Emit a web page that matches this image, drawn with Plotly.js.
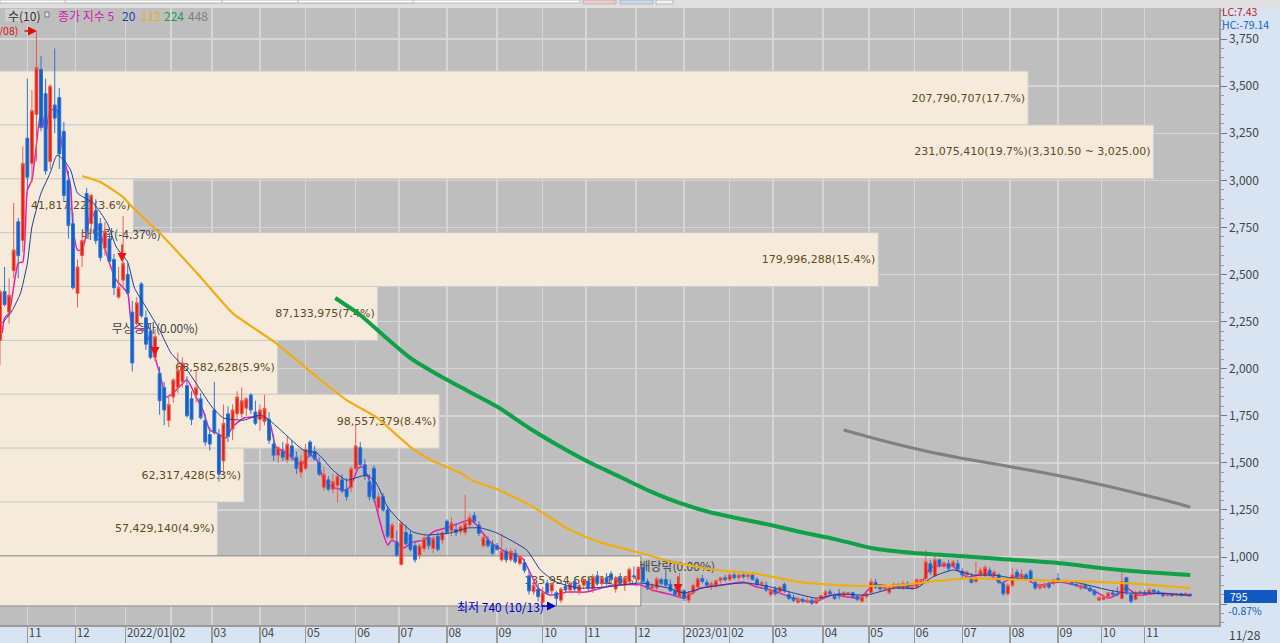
<!DOCTYPE html>
<html>
<head>
<meta charset="utf-8">
<script src="https://cdn.plot.ly/plotly-3.0.1.min.js"></script>
<style>html,body{margin:0;padding:0;background:#d8e4f2;overflow:hidden}</style>
</head>
<body>
<div id="chart" style="width:1280px;height:643px"></div>
<script>
// candles, one every second session
var opens = [2150,2410,2300,2520,2780,2680,3224,3090,3350,3590,3460,3100,3400,3440,3260,3000,2770,2400,2600,2930,2770,2840,2770,2640,2690,2580,2380,2470,2500,2300,
2240,2450,2270,2200,2060,1975,1900,1725,1850,1900,1930,1910,1840,1860,1840,1725,1650,1780,1650,1510,1760,1680,1760,1760,1790,1860,1770,1730,1720,1730,
1600,1540,1560,1515,1590,1530,1450,1470,1610,1560,1500,1370,1410,1360,1380,1410,1360,1370,1470,1580,1490,1400,1470,1260,1320,1250,1100,1080,960,1130,
1120,1060,1010,1045,1105,1045,1110,1090,1190,1140,1145,1135,1130,1170,1220,1170,1060,1090,1065,1060,985,1030,985,1020,965,970,900,815,830,760,
860,820,810,770,845,825,870,815,850,870,830,900,860,890,910,830,890,850,870,900,880,945,870,835,835,880,880,855,820,790,
820,770,810,840,885,865,845,850,875,890,880,905,890,905,895,905,880,855,850,800,830,815,855,800,785,760,775,760,770,755,
775,795,815,790,805,790,805,810,790,765,790,810,865,840,830,810,835,855,835,860,830,840,855,885,965,900,985,950,965,950,
965,925,905,890,870,905,900,930,900,905,860,805,850,920,890,905,925,865,835,840,855,860,885,870,870,870,855,835,850,835,
820,770,775,790,810,805,780,890,800,775,810,810,805,825,815,805,795,800,795,805,800,802];
var highs = [2420,2540,2480,2880,2800,3180,3540,3480,3793,3660,3540,3510,3700,3490,3310,3050,2830,2580,2720,2960,2930,2900,2800,2780,2720,2610,2540,2810,2560,2360,
2380,2460,2310,2240,2210,2010,1930,1860,1950,2085,2060,1960,1880,1990,1870,1760,1690,1930,1680,1810,1800,1810,1880,1900,1850,1870,1830,1810,1860,1770,
1650,1590,1610,1640,1620,1560,1540,1600,1621,1590,1530,1480,1430,1440,1440,1440,1420,1480,1705,1610,1520,1440,1485,1340,1340,1270,1180,1140,1190,1170,
1140,1080,1070,1120,1110,1110,1130,1140,1200,1210,1180,1170,1330,1230,1240,1190,1120,1110,1090,1075,1120,1045,1045,1040,1010,990,930,880,860,840,
880,865,820,840,870,870,890,860,890,900,910,925,900,915,925,900,915,900,945,950,950,955,885,860,895,890,945,880,840,915,
830,820,860,895,905,880,870,880,895,905,915,920,915,925,920,920,895,875,870,835,845,845,865,815,800,790,785,785,785,780,
800,825,830,810,830,820,815,815,800,800,810,885,885,855,850,850,865,860,875,870,850,885,885,1037,985,1020,990,975,985,985,
985,940,930,915,975,945,958,945,930,915,870,860,940,935,935,915,935,880,860,865,870,885,915,880,880,875,860,855,860,845,
830,795,800,815,825,840,930,895,810,820,825,825,835,830,825,810,810,810,810,810,815,808];
var lows = [2020,2330,2240,2480,2480,2620,2950,2990,3100,3260,3030,3060,3250,3060,2890,2690,2420,2325,2540,2690,2720,2660,2570,2600,2560,2390,2370,2420,2400,1985,
2230,2270,2100,2050,2040,1755,1700,1690,1820,1870,1900,1740,1700,1820,1730,1590,1565,1650,1400,1440,1610,1620,1730,1740,1750,1760,1700,1670,1700,1600,
1510,1500,1510,1500,1510,1440,1420,1460,1530,1510,1430,1350,1350,1340,1290,1340,1300,1345,1460,1480,1410,1300,1290,1230,1240,1100,1080,1000,955,1060,
1030,970,990,1030,1040,1020,1030,1070,1120,1110,1110,1120,1115,1160,1180,1110,1050,1050,1010,1035,975,970,975,965,955,915,800,800,765,745,
800,800,740,755,815,810,820,800,830,820,810,850,840,850,860,810,850,820,860,880,870,860,825,815,825,850,840,815,790,780,
765,755,800,825,860,840,825,835,860,870,870,880,875,885,880,875,845,835,815,790,795,805,810,770,760,750,755,755,745,750,
770,785,795,770,775,785,795,780,765,755,780,800,830,820,815,800,825,830,825,830,825,835,850,870,905,895,945,940,925,945,
925,890,890,860,860,895,895,895,895,855,795,795,840,880,880,875,865,825,825,830,830,850,860,860,860,850,840,825,830,815,
795,765,770,785,795,790,775,800,755,770,795,800,800,810,800,785,790,790,790,790,795,790];
var closes = [2410,2340,2390,2630,2600,3090,3017,3370,3600,3280,3050,3500,3330,3140,2920,2760,2430,2540,2680,2730,2920,2680,2590,2730,2570,2430,2430,2560,2400,2030,
2350,2280,2130,2060,2170,1830,1780,1810,1940,1990,2030,1750,1730,1900,1740,1610,1600,1660,1440,1710,1640,1780,1850,1830,1840,1780,1710,1780,1790,1620,
1540,1580,1530,1600,1530,1470,1510,1570,1540,1520,1440,1440,1360,1400,1430,1350,1320,1470,1590,1490,1430,1320,1310,1320,1250,1110,1170,1010,1180,1070,
1040,985,1060,1100,1060,1100,1040,1130,1130,1180,1130,1160,1180,1210,1190,1125,1105,1060,1020,1040,1030,985,1030,975,1000,930,820,850,790,810,
810,860,780,830,825,860,830,850,880,835,895,860,890,860,880,890,865,890,935,895,945,870,835,850,885,860,850,820,800,830,
780,810,850,885,870,850,860,875,890,880,905,890,905,895,905,880,855,865,825,825,805,840,820,780,770,775,765,770,755,775,
795,815,805,780,795,810,810,790,775,790,805,870,840,830,840,835,855,835,860,835,840,880,880,975,920,985,955,970,940,975,
935,905,920,865,890,930,945,905,920,865,805,850,905,890,910,885,875,835,850,855,840,880,870,865,875,855,850,850,835,820,
800,785,790,810,800,800,870,815,765,810,815,805,825,815,805,795,800,795,805,795,805,795];

// moving averages, [session] and [price]
var ma5Sessions = [1,2,4,8,10,12,14,18,20,22,25,26,28,31,32,34,36,38,40,44,48,51,56,58,63,66,70,73,76,82,86,89,92,95,99,102,107,114,118,121,126,132,136,139,142,146,152,155,157,159,162,165,168,170,172,177,181,186,190,197,206,209,215,222,229,236,241,249,257,269,281,286,295,300,307,317,326,332,338,348,357,365,377,383,395,404,408,417,424,433,439,442,447,455,465,479,486,491,494,499,509,522];
var ma5Prices = [2189,2269,2295,2561,2566,2948,3001,3373,3251,3373,3373,3283,3123,2964,2752,2630,2630,2720,2842,2720,2561,2470,2401,2221,2205,2136,1977,1849,1871,1940,1849,1780,1674,1658,1632,1690,1738,1743,1727,1584,1552,1488,1541,1515,1408,1371,1355,1408,1472,1478,1408,1265,1127,1064,1090,1048,1079,1090,1133,1159,1196,1170,1079,1026,995,835,798,814,814,851,851,825,798,782,835,851,867,841,825,782,761,798,782,851,841,862,941,957,894,915,862,878,904,851,867,825,782,809,835,798,809,793];
var ma20Sessions = [1,5,9,12,14,18,22,25,28,31,34,41,47,51,56,59,64,70,75,82,88,93,98,107,114,117,124,133,139,146,152,157,161,165,170,175,181,187,197,205,211,218,231,237,244,254,266,281,293,300,308,319,328,338,348,358,368,380,392,402,409,418,427,436,444,455,471,486,494,504,522];
var ma20Prices = [2242,2301,2401,2561,2752,2932,3039,3134,3108,3054,2932,2879,2773,2646,2566,2428,2327,2205,2083,1993,1886,1796,1738,1727,1754,1738,1664,1568,1552,1461,1408,1424,1435,1393,1265,1196,1133,1117,1127,1154,1154,1127,1037,931,867,835,841,862,835,809,835,856,862,841,809,782,803,798,835,835,894,931,904,904,888,878,867,825,809,809,798];
var ma112Sessions = [36,44,54,58,70,88,102,121,139,152,165,180,189,202,207,219,234,250,263,281,295,314,332,351,368,382,395,410,425,439,464,483,502,522];
var ma112Prices = [3023,2991,2911,2858,2720,2486,2295,2136,1956,1833,1743,1584,1515,1446,1408,1355,1265,1143,1079,1021,973,931,910,867,851,846,851,872,887,883,873,867,855,835];
var ma224Sessions = [147,158,167,180,193,206,219,232,246,259,272,285,298,311,325,338,351,364,382,401,421,439,464,483,502,522];
var ma224Prices = [2375,2285,2189,2056,1961,1876,1791,1685,1584,1499,1425,1350,1287,1239,1202,1170,1133,1101,1048,1021,1005,989,968,941,920,904];
var ma448Sessions = [370,386,404,421,439,456,474,491,509,522];
var ma448Prices = [1674,1621,1568,1526,1488,1451,1408,1361,1308,1265];

// volume by price bands
var bandCenters = [3437,3151,2865,2579,2293,2007,1721,1435,1149,873];
var bandThickness = [286,286,286,286,286,286,286,286,286,266];
var bandVolumes = [207790707,231075410,41817221,179996288,87133975,68582628,98557379,62317428,57429140,135954666];
var bandLabels = ['207,790,707(17.7%)','231,075,410(19.7%)(3,310.50 ~ 3,025.00)','41,817,221(3.6%)','179,996,288(15.4%)','87,133,975(7.4%)','68,582,628(5.9%)','98,557,379(8.4%)','62,317,428(5.3%)','57,429,140(4.9%)','135,954,666(11.6%)'];

// axis
var monthSessions = [12,33,55,75,93,114,134,156,175,196,218,238,257,279,300,320,339,361,381,401,422,443,464,483,502];
var monthLabels = ['11','12','2022/01','02','03','04','05','06','07','08','09','10','11','12','2023/01','02','03','04','05','06','07','08','09','10','11'];
var priceTicks = [3750,3500,3250,3000,2750,2500,2250,2000,1750,1500,1250,1000,750];
var priceTickLabels = ['3,750','3,500','3,250','3,000','2,750','2,500','2,250','2,000','1,750','1,500','1,250','1,000',''];

// corporate events, drawn underneath the candles
var eventSessions = [53,68,297];
var eventPrices = [2704,2205,941];
var eventLabels = ['배당락(-4.37%)','무상증자(0.00%)','배당락(0.00%)'];

var W = 1219, H = 617, TOP = 8;
function px(x) { return x / W; }
function py(y) { return 1 - (y - TOP) / H; }

var sessions = closes.map(function (c, i) { return i * 2; });
var fontName = '"Noto Sans CJK KR", "DejaVu Sans", sans-serif';
var bandFont = '"DejaVu Sans", "Noto Sans CJK KR", sans-serif';

var bands = {
  type: 'bar', orientation: 'h', xaxis: 'x', yaxis: 'y',
  x: bandVolumes, y: bandCenters, width: bandThickness,
  text: bandLabels, textposition: 'inside', insidetextanchor: 'end', textangle: 0, constraintext: 'none',
  textfont: {family: bandFont, size: 11, color: '#5f4a1e'},
  marker: {color: '#f6ebdb', line: {color: ['#cccccc','#cccccc','#cccccc','#cccccc','#cccccc','#cccccc','#cccccc','#cccccc','#cccccc','#8a8a8a'], width: 1}}
};
var events = {
  type: 'scatter', mode: 'text', xaxis: 'x2', yaxis: 'y',
  x: eventSessions, y: eventPrices, text: eventLabels, textposition: 'middle center',
  textfont: {family: fontName, size: 12, color: '#444444'}
};
var candles = {
  type: 'candlestick', xaxis: 'x3', yaxis: 'y',
  x: sessions, open: opens, high: highs, low: lows, close: closes,
  increasing: {line: {color: '#e9604f', width: 1}, fillcolor: '#ee1a12'},
  decreasing: {line: {color: '#2f74d0', width: 1}, fillcolor: '#0f5fce'},
  whiskerwidth: 0
};
function maLine(xs, ys, color, width, axis) {
  return {type: 'scatter', mode: 'lines', xaxis: axis || 'x3', yaxis: 'y', x: xs, y: ys,
    line: {color: color, width: width, shape: 'spline', smoothing: 0.5}};
}
var data = [bands, events,
  maLine(ma5Sessions, ma5Prices, '#e020b0', 1.5, 'x2'),
  candles,
  maLine(ma20Sessions, ma20Prices, '#1c3f9c', 1),
  maLine(ma112Sessions, ma112Prices, '#f0ac12', 2.2),
  maLine(ma224Sessions, ma224Prices, '#0fa048', 4),
  maLine(ma448Sessions, ma448Prices, '#808080', 3)
];

function note(x, y, text, color, anchor, size) {
  return {xref: 'paper', yref: 'paper', x: px(x), y: py(y), text: text, showarrow: false,
    xanchor: anchor || 'left', yanchor: 'middle', font: {family: fontName, size: size || 12, color: color}};
}
function arrow(x, y, ax, ay, color) {
  return {xref: 'paper', yref: 'paper', x: px(x), y: py(y), ax: ax, ay: ay, text: '', showarrow: true,
    arrowhead: 2, arrowsize: 1.2, arrowwidth: 1.5, arrowcolor: color};
}
var annotations = [
  note(6, 15, '수(10)', '#333333'),
  note(56, 15, '종가 지수 5', '#d020b0'),
  note(120, 15, '20', '#1c3f9c'),
  note(139, 15, '112', '#f0ac12'),
  note(162, 15, '224', '#17a050'),
  note(186, 15, '448', '#808080'),
  note(20, 31, '/08)', '#e01010', 'right', 10.5),
  arrow(37, 31, -14, 0, '#e01010'),
  arrow(122, 262, 0, -19, '#ee1010'),
  arrow(155, 356, 0, -10, '#ee1010'),
  arrow(678, 593, 0, -18, '#ee1010'),
  note(455, 606, '최저 740 (10/13)', '#0000c8'),
  arrow(556, 606, -16, 0, '#0000c8'),
  note(1220, 12, 'LC:7.43', '#c02020', 'left', 10.5),
  note(1220, 25, 'HC:-79.14', '#1560c0', 'left', 10.5),
  note(1228, 596, '795', '#ffffff', 'left', 10.5),
  note(1226, 610, '-0.87%', '#1560c0', 'left', 10.5),
  note(1227, 634, '11/28', '#444444')
];

function boxShape(x0, y0, x1, y1, fill, lineColor) {
  return {type: 'rect', xref: 'paper', yref: 'paper', x0: px(x0), x1: px(x1), y0: py(y0), y1: py(y1),
    fillcolor: fill, line: {color: lineColor || fill, width: lineColor ? 1 : 0}, layer: 'above'};
}
var shapes = [
  boxShape(0, 0, 1280, 8, '#dfdfdf'),
  boxShape(0, 0, 580, 3, '#ffffff', '#b8b8b8'),
  boxShape(65, 0, 222, 3, '#ffffff', '#b8b8b8'),
  boxShape(222, 0, 298, 3, '#ffffff', '#b8b8b8'),
  boxShape(298, 0, 413, 3, '#ffffff', '#b8b8b8'),
  boxShape(583, 0, 616, 4, '#f0c8c8', '#b8b8b8'),
  boxShape(620, 0, 653, 4, '#c4d8f0', '#b8b8b8'),
  boxShape(656, 0, 673, 4, '#f2f2f2', '#b8b8b8'),
  boxShape(5, 9, 38, 21, '#cfcfcf'),
  boxShape(45, 12, 49, 17, '#e4e4e4', '#777777'),
  boxShape(1224, 590, 1277, 603, '#1259c3')
];

// bare axes: no ticks, labels or lines, only the scale
var bareAxis = {showticklabels: false, ticks: '', showgrid: false, zeroline: false, showline: false, fixedrange: true};

var layout = {
  width: 1280, height: 643,
  margin: {l: 0, r: 61, t: TOP, b: 18, pad: 0},
  paper_bgcolor: '#d8e4f2', plot_bgcolor: '#bebebe',
  showlegend: false, barmode: 'overlay', bargap: 0, boxgap: 0.1,
  font: {family: fontName, size: 12, color: '#444444'},
  xaxis: Object.assign({range: [17070000, 243200000]}, bareAxis),
  xaxis2: {
    overlaying: 'x', side: 'bottom', range: [0, 534.6], fixedrange: true,
    tickmode: 'array', tickvals: monthSessions, ticktext: monthLabels,
    ticks: 'outside', ticklen: 18, tickcolor: '#9a9a9a', tickwidth: 1.5,
    ticklabelposition: 'outside right', ticklabelstandoff: -3,
    tickfont: {family: fontName, size: 11.5, color: '#444444'},
    showgrid: true, gridcolor: '#d6d6d6', gridwidth: 1.5, zeroline: false,
    showline: true, linecolor: '#9a9a9a', linewidth: 1.5
  },
  xaxis3: Object.assign({overlaying: 'x', range: [0, 534.6], rangeslider: {visible: false}}, bareAxis),
  yaxis: {
    side: 'right', range: [639, 3915], fixedrange: true,
    tickmode: 'array', tickvals: priceTicks, ticktext: priceTickLabels,
    ticks: 'outside', ticklen: 6, tickcolor: '#777777', tickwidth: 1,
    minor: {dtick: 50, ticks: 'outside', ticklen: 3, tickcolor: '#999999', showgrid: false},
    tickfont: {family: fontName, size: 12, color: '#444444'},
    showgrid: true, gridcolor: '#d6d6d6', gridwidth: 1.5, zeroline: false,
    showline: true, linecolor: '#9a9a9a', linewidth: 1.5
  },
  annotations: annotations,
  shapes: shapes
};

Plotly.newPlot('chart', data, layout, {displayModeBar: false, staticPlot: true});
</script>
</body>
</html>
